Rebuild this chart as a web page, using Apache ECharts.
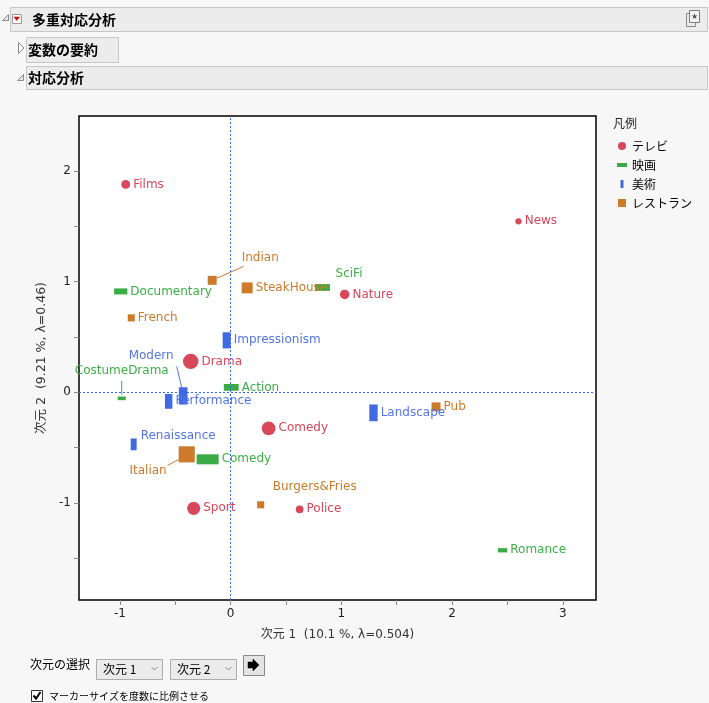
<!DOCTYPE html>
<html><head><meta charset="utf-8">
<script src="https://cdn.jsdelivr.net/npm/echarts@6/dist/echarts.min.js"></script>
<style>html,body{margin:0;padding:0;background:#f7f7f7;}#c{width:709px;height:703px;}</style>
</head><body><div id="c"></div>
<script>
// ---- data ----
const tvNames = ['Films','News','Nature','Drama','Comedy','Sport','Police'];
const tvX = [-0.948, 2.60, 1.03, -0.361, 0.343, -0.334, 0.623];
const tvY = [1.879, 1.545, 0.885, 0.28, -0.325, -1.048, -1.057];
const tvFreq = [8, 4, 9, 24, 19, 17, 6];

const filmNames = ['Documentary','SciFi','CostumeDrama','Action','Comedy','Romance'];
const filmX = [-0.993, 0.83, -0.984, 0.005, -0.208, 2.456];
const filmY = [0.912, 0.948, -0.054, 0.045, -0.605, -1.427];
const filmFreq = [8, 10, 3, 10, 22, 4];

const artNames = ['Impressionism','Modern','Performance','Renaissance','Landscape'];
const artX = [-0.036, -0.429, -0.56, -0.876, 1.29];
const artY = [0.47, -0.032, -0.081, -0.47, -0.185];
const artFreq = [13, 15, 11, 7, 14];

const restNames = ['Indian','SteakHouse','French','Italian','Pub','Burgers&Fries'];
const restX = [-0.167, 0.149, -0.898, -0.397, 1.855, 0.271];
const restY = [1.012, 0.944, 0.673, -0.56, -0.131, -1.016];
const restFreq = [8, 12, 5, 26, 8, 5];

const seriesNames = ['テレビ','映画','美術','レストラン'];
const xTickValues = [-1, -0.5, 0, 0.5, 1, 1.5, 2, 2.5, 3];
const xLabelValues = [-1, 0, 1, 2, 3];
const yTickValues = [-1.5, -1, -0.5, 0, 0.5, 1, 1.5, 2];
const yLabelValues = [-1, 0, 1, 2];
const xTitle = '次元 1  (10.1 %, λ=0.504)';
const yTitle = '次元 2  (9.21 %, λ=0.46)';

// ---- styles ----
const FONT = '"DejaVu Sans", "Noto Sans CJK JP", sans-serif';
const JFONT = '"Noto Sans CJK JP", "DejaVu Sans", sans-serif';
const colors = {tv:'#d8475a', film:'#3aab45', art:'#4169e1', rest:'#cd7a2b'};
const textColors = {tv:'#d8475a', film:'#3cb046', art:'#5474e6', rest:'#cd7a2b'};

// label placements relative to marker centre (px): [dx, dy, align]
const labelOffsets = {
  tv: {},
  film: {'SciFi':[13,-14,'left'], 'CostumeDrama':[0,-27,'center']},
  art: {'Modern':[-9.5,-40,'right'], 'Renaissance':[7,-9,'left']},
  rest: {'Indian':[29.5,-22,'left'], 'Italian':[-20,17,'right'], 'Burgers&Fries':[12,-17.5,'left']}
};
// leader lines relative to marker centre (px)
const leaderDefs = [
  {key:'rest', name:'Indian', pts:[[4.5,-2],[31.5,-14]]},
  {key:'film', name:'CostumeDrama', pts:[[0,-17.5],[0,-3.5]]},
  {key:'art', name:'Modern', pts:[[-6.5,-29.5],[-1.5,-8.5]]},
  {key:'rest', name:'Italian', pts:[[-19,11],[-8,5]]}
];

const sets = {
  tv:{names:tvNames,x:tvX,y:tvY,f:tvFreq},
  film:{names:filmNames,x:filmX,y:filmY,f:filmFreq},
  art:{names:artNames,x:artX,y:artY,f:artFreq},
  rest:{names:restNames,x:restX,y:restY,f:restFreq}
};
const sizeFns = {
  tv: v => Math.sqrt(v[2]*10),
  film: v => [Math.sqrt(v[2]*22), Math.sqrt(v[2]*10/2.2)],
  art: v => [Math.sqrt(v[2]*5), Math.sqrt(v[2]*20)],
  rest: v => Math.sqrt(v[2]*10)
};
const symbols = {tv:'circle', film:'rect', art:'rect', rest:'rect'};
const keys = ['tv','film','art','rest'];

function makeSeries(key, i){
  const s = sets[key];
  const data = s.names.map((n,j)=>({name:n, value:[s.x[j], s.y[j], s.f[j]]}));
  const offs = labelOffsets[key];
  return {
    name: seriesNames[i], type:'scatter', data: data,
    symbol: symbols[key], symbolSize: sizeFns[key],
    itemStyle:{color: colors[key], opacity:1},
    label:{show:true, position:'right', distance:3, formatter:'{b}', color: textColors[key], fontSize:12, fontFamily: FONT},
    labelLayout: function(p){
      const o = offs[s.names[p.dataIndex]];
      if(!o) return {};
      const cx = p.rect.x + p.rect.width/2, cy = p.rect.y + p.rect.height/2;
      return {x: cx+o[0], y: cy+o[1], align:o[2], verticalAlign:'middle'};
    },
    emphasis:{disabled:true}, silent:true, z:2
  };
}

const leaderData = leaderDefs.map((d,k)=>{
  const s = sets[d.key]; const j = s.names.indexOf(d.name);
  return [s.x[j], s.y[j], k];
});

const series = keys.map(makeSeries);
series.push({
  name:'leaders', type:'custom', data: leaderData, silent:true, z:2,
  renderItem: function(params, api){
    const c = api.coord([api.value(0), api.value(1)]);
    const d = leaderDefs[api.value(2)];
    return {type:'polyline', shape:{points: d.pts.map(p=>[c[0]+p[0], c[1]+p[1]])},
            style:{stroke: textColors[d.key], lineWidth:1, fill:null}};
  }
});
series.push({
  name:'zero', type:'scatter', data:[], silent:true, z:5,
  markLine:{symbol:'none', silent:true, animation:false, label:{show:false},
    lineStyle:{color:'#3366ff', type:[2,2], width:1},
    emphasis:{disabled:true},
    data:[{xAxis:0},{yAxis:0}]}
});

// ---- header / controls graphics ----
const G = [];
function box(x,y,w,h,fill,stroke){G.push({type:'rect',shape:{x:x+0.5,y:y+0.5,width:w,height:h},style:{fill:fill,stroke:stroke,lineWidth:1},silent:true});}
function txt(x,y,t,opt){G.push({type:'text',x:x,y:y,style:Object.assign({text:t,fill:'#000',font:'12px '+JFONT,verticalAlign:'middle',align:'left'},opt||{}),silent:true});}
function poly(pts,fill,stroke,lw){G.push({type:'polygon',shape:{points:pts},style:{fill:fill,stroke:stroke,lineWidth:lw||1},silent:true});}
function line(pts,stroke,lw){G.push({type:'polyline',shape:{points:pts},style:{fill:null,stroke:stroke,lineWidth:lw||1},silent:true});}

// row 1
box(10,7,697,24,'#ececec','#c6c6c6');
poly([[2.5,20.5],[8.5,14.5],[8.5,20.5]],'#e6e6e6','#8a8a8a');
box(12,14,9,9,'#fafafa','#9a9a9a');
poly([[14,17],[19.5,17],[16.75,20.5]],'#d40000','#d40000',0.5);
txt(32,19.5,'多重対応分析',{font:'bold 14px '+JFONT});
box(686,13,9,13,'none','#8a8a8a');
box(689,10,10,12,'#f3f3f3','#7a7a7a');
txt(694.5,16.5,'★',{font:'8px '+FONT,align:'center',fill:'#555'});
// row 2
poly([[18.5,42.5],[18.5,53.5],[24,48]],'#fbfbfb','#8a8a8a');
box(26,37,92,25,'#ececec','#c6c6c6');
txt(28,49.5,'変数の要約',{font:'bold 14px '+JFONT});
// row 3
poly([[17.5,80.5],[23.5,74.5],[23.5,80.5]],'#e6e6e6','#8a8a8a');
box(26,66,681,23,'#ececec','#c6c6c6');
txt(28,77.5,'対応分析',{font:'bold 14px '+JFONT});
// legend title
txt(613,123,'凡例',{fill:'#222'});
// bottom controls
txt(30,664,'次元の選択');
box(96,659,66,20,'#ebebeb','#adadad');
txt(103,669.5,'次元 1');
line([[151.5,667],[154.5,670],[157.5,667]],'#888');
box(170,659,66,20,'#ebebeb','#adadad');
txt(177,669.5,'次元 2');
line([[225.5,667],[228.5,670],[231.5,667]],'#888');
box(243,655,21,20,'#e4e4e4','#8a8a8a');
poly([[248,662],[253,662],[253,659],[259,665],[253,671],[253,668],[248,668]],'#000','#000',0.5);
box(31,690,11,11,'#fff','#333');
line([[33.5,695.5],[36,698.5],[40.5,692]],'#000',2);
txt(49,696,'マーカーサイズを度数に比例させる',{font:'10px '+JFONT});

const chart = echarts.init(document.getElementById('c'), null, {renderer:'canvas'});
chart.setOption({
  animation:false,
  backgroundColor:'#f7f7f7',
  grid:{left:79, top:116, right:113, bottom:103, show:true, backgroundColor:'#fff', borderColor:'#000', borderWidth:1.5},
  xAxis:{type:'value', min:-1.37, max:3.3, splitLine:{show:false}, axisLine:{show:false, onZero:false},
    axisTick:{show:true, length:5, lineStyle:{color:'#8a8a8a'}, customValues:xTickValues},
    axisLabel:{customValues:xLabelValues, margin:8, color:'#222', fontSize:12, fontFamily:FONT},
    name:xTitle, nameLocation:'middle', nameGap:29,
    nameTextStyle:{color:'#333', fontSize:12, fontFamily:FONT}},
  yAxis:{type:'value', min:-1.876, max:2.497, splitLine:{show:false}, axisLine:{show:false, onZero:false},
    axisTick:{show:true, length:5, lineStyle:{color:'#8a8a8a'}, customValues:yTickValues},
    axisLabel:{customValues:yLabelValues, margin:8, color:'#222', fontSize:12, fontFamily:FONT},
    name:yTitle, nameLocation:'middle', nameGap:30,
    nameTextStyle:{color:'#333', fontSize:12.5, fontFamily:FONT}},
  legend:{orient:'vertical', left:617, top:140, itemWidth:10, itemHeight:8, itemGap:7, padding:0,
    selectedMode:false, textStyle:{fontSize:12, color:'#000', fontFamily:JFONT},
    data:[{name:'テレビ',icon:'circle'},{name:'映画',icon:'path://M0,0h10v4h-10z'},
          {name:'美術',icon:'path://M0,0h3v8h-3z'},{name:'レストラン',icon:'path://M0,0h7v7h-7z'}]},
  tooltip:{show:false},
  graphic: G,
  series: series
});
</script></body></html>
